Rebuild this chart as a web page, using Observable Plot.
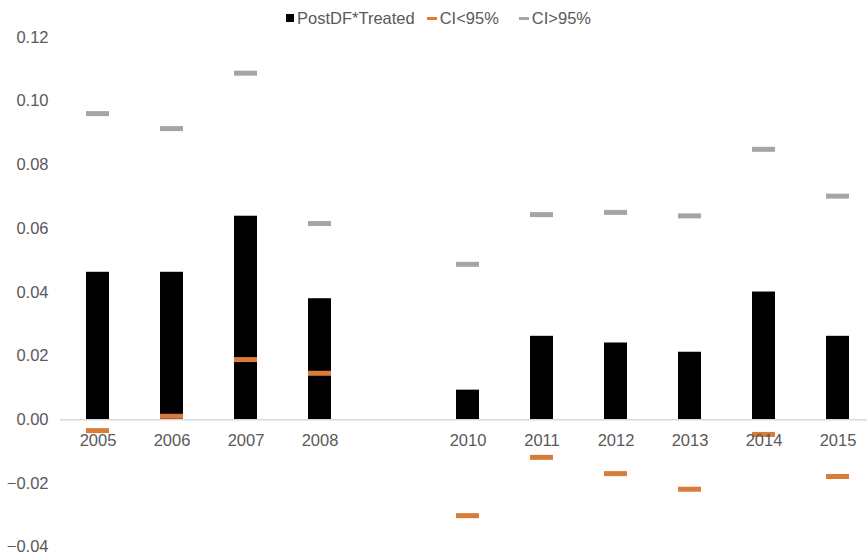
<!DOCTYPE html>
<html>
<head>
<meta charset="utf-8">
<script src="https://cdn.jsdelivr.net/npm/d3@7"></script>
<script src="https://cdn.jsdelivr.net/npm/@observablehq/plot@0.6"></script>
<style>
  body { margin: 0; background: #fff; font-family: "Liberation Sans", Arial, Helvetica, sans-serif; position: relative; }
  #legend { position: absolute; left: 0; top: 0; width: 867px; height: 30px; display: flex; justify-content: center; align-items: center; padding-left: 22px; padding-top: 6px; box-sizing: border-box;
            font-size: 16.5px; color: #595959; z-index: 2; }
  .item { display: flex; align-items: center; margin-right: 12px; }
  .sw { display: inline-block; margin-right: 3px; }
</style>
</head>
<body>
<div id="legend">
  <span class="item"><span class="sw" style="width:8px;height:8px;background:#000"></span>PostDF*Treated</span>
  <span class="item" style="margin-right:20px"><span class="sw" style="width:10px;height:3px;background:#d97c3a"></span>CI&lt;95%</span>
  <span class="item"><span class="sw" style="width:10px;height:3px;background:#a5a5a5"></span>CI&gt;95%</span>
</div>
<div id="chart"></div>
<script>
// x slots (2009 is an empty slot in the original chart)
const xSlots = ["2005","2006","2007","2008","2009","2010","2011","2012","2013","2014","2015"];
const years  = ["2005","2006","2007","2008","2010","2011","2012","2013","2014","2015"];
const coef   = [0.0463, 0.0463, 0.0639, 0.0380, 0.0093, 0.0262, 0.0241, 0.0212, 0.0401, 0.0262];
const ciLow  = [-0.0034, 0.0011, 0.0189, 0.0146, -0.0301, -0.0118, -0.0169, -0.0218, -0.0046, -0.0178];
const ciHigh = [0.0961, 0.0914, 0.1088, 0.0616, 0.0488, 0.0644, 0.0651, 0.0640, 0.0849, 0.0702];
const yTicks = [-0.04, -0.02, 0.00, 0.02, 0.04, 0.06, 0.08, 0.10, 0.12];

const rows = years.map((y, i) => ({year: y, coef: coef[i], lo: ciLow[i], hi: ciHigh[i]}));

const W = 867, H = 554;
const chart = Plot.plot({
  width: W,
  height: H,
  marginTop: 37,
  marginBottom: 7,
  marginLeft: 60,
  marginRight: 0,
  style: {fontFamily: '"Liberation Sans", Arial, Helvetica, sans-serif', fontSize: "16.5px", color: "#595959", background: "#fff"},
  x: {domain: xSlots, range: [60, 874], paddingInner: 0.69, paddingOuter: 0.345, align: 0.5},
  y: {domain: [-0.04, 0.12], range: [546.7, 37]},
  marks: [
    Plot.barY(rows, {x: "year", y: "coef", fill: "#000"}),
    Plot.ruleY([0], {stroke: "#d9d9d9", strokeWidth: 1.5}),
    Plot.tickY(rows, {x: "year", y: "lo", stroke: "#d97c3a", strokeWidth: 5}),
    Plot.tickY(rows, {x: "year", y: "hi", stroke: "#a5a5a5", strokeWidth: 5}),
    Plot.text(years, {x: d => d, y: 0, text: d => d, dy: 21, fill: "#595959", fontSize: 16.5}),
    Plot.axisY({ticks: yTicks, tickSize: 0, tickPadding: 12, tickFormat: d3.format(".2f"), label: null, fill: "#595959", fontSize: 16.5}),
    Plot.axisX({ticks: [], label: null})
  ]
});
document.getElementById("chart").appendChild(chart);
</script>
</body>
</html>
